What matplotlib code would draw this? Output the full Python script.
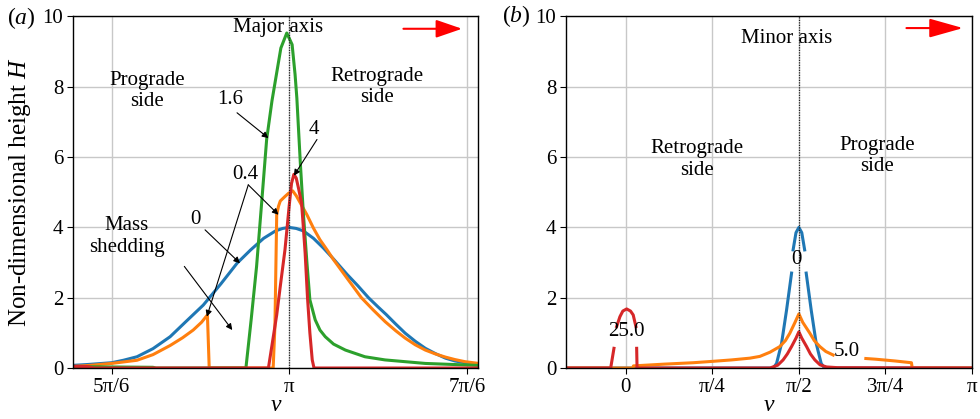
import numpy as np
import matplotlib
matplotlib.use('Agg')
import matplotlib.pyplot as plt

plt.rcParams['font.family'] = ['Liberation Serif', 'DejaVu Serif']
plt.rcParams['mathtext.fontset'] = 'custom'
plt.rcParams['mathtext.rm'] = 'Liberation Serif'
plt.rcParams['mathtext.it'] = 'Liberation Serif:italic'

nan = np.nan

# ---------------- panel (a): angles in degrees, H values ----------------
a_blue_nu = [143, 146, 150, 152, 154.3, 157, 159.9, 162.5, 165.5, 168.5, 171.2, 173.5, 175.7,
             177.7, 178.9, 180, 181.2, 182.4, 184.1, 185.8, 187.5, 189.8, 191.6, 193.4, 195,
             196.4, 198, 199.6, 201.3, 203.0, 204.7, 206.4, 208, 209.7, 212.5]
a_blue_H = [0.07, 0.10, 0.15, 0.22, 0.32, 0.55, 0.89, 1.31, 1.79, 2.40, 2.98, 3.36, 3.69,
            3.90, 3.97, 4.00, 3.97, 3.90, 3.69, 3.41, 3.10, 2.66, 2.34, 2.00, 1.74,
            1.52, 1.25, 0.99, 0.76, 0.56, 0.41, 0.28, 0.20, 0.15, 0.09]

a_orange_nu = [143, 146, 150, 154.3, 157, 159.9, 162, 163.8, 165.2, 166.2, 166.5, 177.3, 177.6,
               177.9, 178.2, 178.5, 179.3, 179.9, 180.6, 181.2, 181.9, 183.0, 184.1, 185.2,
               186.4, 187.5, 189.8, 192.2, 194.2, 196.2, 198, 199.6, 201.3, 203.0, 204.7,
               206.4, 208, 209.7, 212.5]
a_orange_H = [0.04, 0.07, 0.13, 0.22, 0.38, 0.64, 0.86, 1.08, 1.30, 1.51, 0.0, 0.0, 1.20,
              4.36, 4.60, 4.75, 4.88, 4.97, 5.04, 4.90, 4.69, 4.36, 3.98, 3.65,
              3.36, 3.08, 2.55, 2.00, 1.65, 1.32, 1.06, 0.85, 0.66, 0.51, 0.40,
              0.31, 0.24, 0.18, 0.12]

a_green_nu = [143, 150, 157, 157.5, 172.7, 173.6, 174.5, 175.4, 176.2, 177.1, 177.9, 178.6, 179.6,
              180.5, 181.0, 181.3, 181.9, 182.4, 183.0, 183.5, 184.4, 185.2, 186.1, 187.5, 189.5,
              192.8, 196.2, 203.0, 212.5]
a_green_H = [0.04, 0.03, 0.02, 0.0, 0.0, 1.4, 2.89, 4.79, 6.5, 7.6, 8.4, 9.1, 9.53,
             9.2, 8.35, 7.68, 5.80, 4.40, 3.00, 1.94, 1.37, 1.08, 0.89, 0.68, 0.51,
             0.32, 0.23, 0.13, 0.07]

a_red_nu = [143, 146, 147, 176.5, 177.9, 178.5, 179.3, 180.0, 180.4, 180.8, 181.2, 181.6, 182.1,
            182.4, 182.7, 183.1, 183.5, 183.9, 184.2, 212.5]
a_red_H = [0.05, 0.04, 0.0, 0.0, 1.51, 2.32, 3.37, 4.60, 5.25, 5.51, 5.40, 5.10, 4.69,
           4.00, 3.27, 2.00, 1.00, 0.23, 0.0, 0.0]

a_labels = ['0', '0.4', '1.6', '4']

# ---------------- panel (b) ----------------
b_blue_nu = [-31, 76.7, 78.4, 81.0, 83.6, 86.2, nan, 87.0, 88.5, 90, 91.5, 93.0, nan,
             93.8, 96.4, 99.0, 101.6, 103.3, 180]
b_blue_H = [0, 0, 0.13, 0.70, 1.65, 2.70, nan, 3.36, 3.85, 4.0, 3.85, 3.36, nan,
            2.70, 1.65, 0.70, 0.13, 0, 0]

b_orange_nu = [-31, 3.8, 4.0, 20, 35, 45.3, 55, 64.5, 69.7, 75, 80.1, 83, 85.3, 88, 90, 92,
               95.7, 98, 100.9, 104, 107.8, nan, 124.8, 130, 140, 148.5, 148.9, 180]
b_orange_H = [0, 0, 0.06, 0.11, 0.15, 0.19, 0.23, 0.28, 0.33, 0.45, 0.61, 0.78, 0.99, 1.3, 1.54, 1.3,
              0.99, 0.78, 0.61, 0.47, 0.37, nan, 0.27, 0.25, 0.20, 0.15, 0, 0]

b_red_nu = [-31, -7.8, -6.1, nan, -4.7, -3.0, -1.5, 0.5, 2.5, 3.9, 5.3, nan, 5.7, 5.9, 75, 79,
            81.8, 84, 86.2, 88.5, 90, 91.5, 94.0, 96, 98.3, 101, 104.4, 110, 180]
b_red_H = [0, 0, 0.56, nan, 1.18, 1.46, 1.62, 1.68, 1.62, 1.51, 1.18, nan, 0.56, 0, 0, 0.08,
           0.23, 0.40, 0.61, 0.85, 1.03, 0.85, 0.61, 0.40, 0.23, 0.09, 0.03, 0.01, 0]

b_labels = ['0', '5.0', '25.0']

a_xticks_deg = [150, 180, 210]
a_xticklabels = ['5π/6', 'π', '7π/6']
b_xticks_deg = [0, 45, 90, 135, 180]
b_xticklabels = ['0', 'π/4', 'π/2', '3π/4', 'π']
yticks = [0, 2, 4, 6, 8, 10]

r = np.deg2rad
C_BLUE, C_ORANGE, C_GREEN, C_RED = '#1f77b4', '#ff7f0e', '#2ca02c', '#d62728'

fig = plt.figure(figsize=(9.8, 4.19), dpi=100)
axa = fig.add_axes([0.0745, 0.1217, 0.4133, 0.839])
axb = fig.add_axes([0.5776, 0.1217, 0.4143, 0.839])

FS = 15
for ax in (axa, axb):
    ax.set_axisbelow(True)
    ax.grid(True, color='#c8c8c8', lw=1.0)
    ax.set_ylim(0, 10)
    ax.set_yticks(yticks)
    ax.tick_params(direction='out', length=4, width=0.8, labelsize=FS, pad=3)
    for s in ax.spines.values():
        s.set_linewidth(1.0)
        s.set_color('black')
    ax.set_xlabel('ν', fontsize=17, fontstyle='italic', va='top')
    ax.xaxis.set_label_coords(0.5, -0.078)

LW = 2.2
axa.plot(r(np.array(a_blue_nu)), a_blue_H, color=C_BLUE, lw=LW)
axa.plot(r(np.array(a_orange_nu)), a_orange_H, color=C_ORANGE, lw=LW)
axa.plot(r(np.array(a_green_nu)), a_green_H, color=C_GREEN, lw=LW)
axa.plot(r(np.array(a_red_nu)), a_red_H, color=C_RED, lw=LW)
axa.axvline(np.pi, color='#222222', lw=0.9, ls=(0, (1, 1)))
axa.set_xlim(r(143.5), r(211.9))
axa.set_xticks(r(np.array(a_xticks_deg)))
axa.set_xticklabels(a_xticklabels)
axa.set_ylabel('Non-dimensional height $H$', fontsize=18)
axa.yaxis.set_label_coords(-0.10, 0.5)

axb.plot(r(np.array(b_blue_nu)), b_blue_H, color=C_BLUE, lw=LW)
axb.plot(r(np.array(b_orange_nu)), b_orange_H, color=C_ORANGE, lw=LW)
axb.plot(r(np.array(b_red_nu)), b_red_H, color=C_RED, lw=LW)
axb.axvline(np.pi / 2, color='#222222', lw=0.9, ls=(0, (1, 1)))
axb.set_xlim(r(-31), r(180))
axb.set_xticks(r(np.array(b_xticks_deg)))
axb.set_xticklabels(b_xticklabels)

# texts panel (a)
axa.text(r(178.2), 9.68, 'Major axis', fontsize=FS, ha='center', va='center')
axa.text(r(156.0), 7.87, 'Prograde\nside', fontsize=FS, ha='center', va='center', linespacing=1.15)
axa.text(r(194.8), 8.0, 'Retrograde\nside', fontsize=FS, ha='center', va='center', linespacing=1.15)
axa.text(r(152.6), 3.74, 'Mass\nshedding', fontsize=FS, ha='center', va='center', linespacing=1.15)
axa.text(r(170.0), 7.64, a_labels[2], fontsize=FS, ha='center', va='center')
axa.text(r(184.1), 6.78, a_labels[3], fontsize=FS, ha='center', va='center')
axa.text(r(172.6), 5.5, a_labels[1], fontsize=FS, ha='center', va='center')
axa.text(r(164.1), 4.22, a_labels[0], fontsize=FS, ha='center', va='center')

aprops = dict(arrowstyle='-|>', color='black', lw=0.8, mutation_scale=9, shrinkA=0, shrinkB=0)
arrows_a = [((171.2, 7.26), (176.5, 6.54)),
            ((184.7, 6.5), (180.8, 5.47)),
            ((173.1, 5.21), (178.2, 4.36)),
            ((173.1, 5.21), (166.1, 1.46)),
            ((165.8, 3.93), (171.7, 2.98)),
            ((162.3, 2.89), (170.4, 1.08))]
for (x0, y0), (x1, y1) in arrows_a:
    axa.annotate('', xy=(r(x1), y1), xytext=(r(x0), y0), arrowprops=aprops)

axa.annotate('', xy=(r(209.2), 9.65), xytext=(r(199.3), 9.65),
             arrowprops=dict(arrowstyle='-|>,head_length=1.6,head_width=0.55', color='red',
                             lw=1.5, mutation_scale=10, shrinkA=0, shrinkB=0))

# texts panel (b)
axb.text(r(83.6), 9.36, 'Minor axis', fontsize=FS, ha='center', va='center')
axb.text(r(37.2), 5.93, 'Retrograde\nside', fontsize=FS, ha='center', va='center', linespacing=1.15)
axb.text(r(130.7), 6.02, 'Prograde\nside', fontsize=FS, ha='center', va='center', linespacing=1.15)
axb.text(r(88.8), 3.08, b_labels[0], fontsize=FS, ha='center', va='center')
axb.text(r(0.5), 1.03, b_labels[2], fontsize=FS, ha='center', va='center')
axb.text(r(114.8), 0.46, b_labels[1], fontsize=FS, ha='center', va='center')
axb.annotate('', xy=(r(175.3), 9.67), xytext=(r(145.9), 9.67),
             arrowprops=dict(arrowstyle='-|>,head_length=1.6,head_width=0.45', color='red',
                             lw=1.5, mutation_scale=13, shrinkA=0, shrinkB=0))

fig.text(21 / 980, 1 - 18 / 419, '($a$)', fontsize=17, ha='center', va='center')
fig.text(516 / 980, 1 - 16 / 419, '($b$)', fontsize=17, ha='center', va='center')

fig.savefig('out.png', dpi=100)
